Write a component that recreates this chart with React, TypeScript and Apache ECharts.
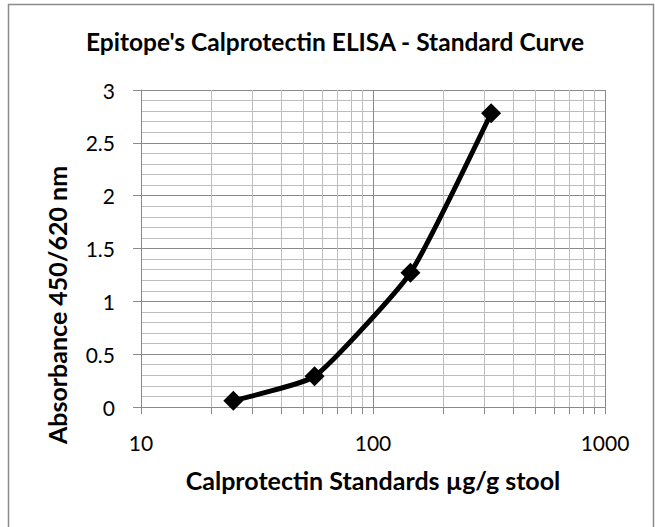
import React, { useEffect, useRef } from "react";
import * as echarts from "echarts";

const titleText = "Epitope's Calprotectin ELISA - Standard Curve";
const xTitle = "Calprotectin Standards µg/g stool";
const yTitle = "Absorbance 450/620 nm";

const standards = [25, 56, 145, 323];
const absorbance = [0.06, 0.29, 1.27, 2.78];

const minorXTicks = [20, 30, 40, 50, 60, 70, 80, 90, 200, 300, 400, 500, 600, 700, 800, 900];

const FONT = "Lato";
const MAJOR = "#8a8a8a";
const MINOR = "#bdbdbd";

export default function App() {
  const ref = useRef<HTMLDivElement>(null);
  useEffect(() => {
    if (!ref.current) return;
    const chart = echarts.init(ref.current, null, { renderer: "svg" });
    chart.setOption({
      animation: false,
      backgroundColor: "#ffffff",
      graphic: [
        {
          type: "rect",
          shape: { x: 8.5, y: 4.5, width: 645, height: 540 },
          style: { fill: "none", stroke: "#8a8a8a", lineWidth: 1.5 },
          silent: true,
        },
        {
          type: "text",
          x: 335,
          y: 41,
          style: {
            text: titleText,
            font: `bold 24.5px ${FONT}`,
            fill: "#000",
            align: "center",
            verticalAlign: "middle",
          },
        },
        {
          type: "text",
          x: 57,
          y: 305,
          rotation: Math.PI / 2,
          style: {
            text: yTitle,
            font: `bold 25px ${FONT}`,
            fill: "#000",
            align: "center",
            verticalAlign: "middle",
          },
        },
      ],
      grid: { left: 141, top: 90, width: 464, height: 317, containLabel: false },
      xAxis: {
        type: "log",
        logBase: 10,
        min: 10,
        max: 1000,
        name: xTitle,
        nameLocation: "middle",
        nameGap: 60,
        nameTextStyle: { fontFamily: FONT, fontWeight: "bold", fontSize: 25, color: "#000" },
        axisLine: { show: true, lineStyle: { color: MAJOR, width: 1 } },
        axisTick: { show: true, length: 7, lineStyle: { color: MAJOR } },
        axisLabel: {
          fontFamily: FONT,
          fontSize: 21,
          color: "#000",
          margin: 25,
          formatter: (v: number) => String(Math.round(v)),
        },
        splitLine: { show: true, lineStyle: { color: MAJOR, width: 1 } },
      },
      yAxis: {
        type: "value",
        min: 0,
        max: 3,
        interval: 0.5,
        axisLine: { show: true, lineStyle: { color: MAJOR, width: 1 } },
        axisTick: { show: true, length: 8, lineStyle: { color: MAJOR } },
        axisLabel: { fontFamily: FONT, fontSize: 21, color: "#000", margin: 26 },
        splitLine: { show: true, lineStyle: { color: MAJOR, width: 1 } },
        minorTick: { show: false, splitNumber: 5 },
        minorSplitLine: { show: true, lineStyle: { color: MINOR, width: 1 } },
      },
      series: [
        {
          type: "custom",
          z: 1,
          silent: true,
          clip: false,
          data: minorXTicks.map((v) => [v, 0]),
          renderItem: (_params: any, api: any) => {
            const v = api.value(0);
            const p0 = api.coord([v, 0]);
            const p1 = api.coord([v, 3]);
            const x = Math.round(p0[0]) + 0.5;
            return {
              type: "group",
              children: [
                {
                  type: "line",
                  shape: { x1: x, y1: p0[1], x2: x, y2: p1[1] },
                  style: { stroke: MINOR, lineWidth: 1 },
                },
                {
                  type: "line",
                  shape: { x1: x, y1: p0[1], x2: x, y2: p0[1] + 7 },
                  style: { stroke: MAJOR, lineWidth: 1 },
                },
              ],
            };
          },
        },
        {
          type: "line",
          z: 5,
          data: standards.map((x, i) => [x, absorbance[i]]),
          smooth: 0.15,
          symbol: "diamond",
          symbolSize: 20,
          lineStyle: { color: "#000", width: 5 },
          itemStyle: { color: "#000" },
        },
      ],
    });
    return () => chart.dispose();
  }, []);
  return (
    <div
      ref={ref}
      style={{ position: "fixed", left: 0, top: 0, width: 655, height: 527 }}
    />
  );
}
